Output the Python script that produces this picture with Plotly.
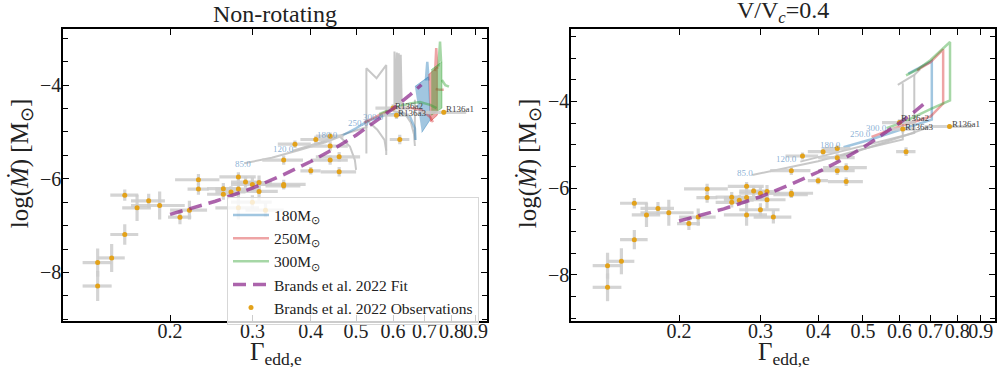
import numpy as np
import plotly.graph_objects as go

# ---------------- Observations (Brands et al. 2022) ----------------
obs_gamma = [0.14, 0.14, 0.15, 0.16, 0.16, 0.17, 0.18, 0.19, 0.21, 0.22, 0.23, 0.23,
             0.26, 0.26, 0.27, 0.28, 0.28, 0.28, 0.29, 0.30, 0.30, 0.31, 0.31, 0.32,
             0.35, 0.35, 0.35, 0.37, 0.40, 0.41, 0.44, 0.44, 0.44, 0.46, 0.46,
             0.60, 0.61, 0.62, 0.77]
obs_mdot = [-7.79, -8.29, -7.69, -7.19, -6.35, -6.62, -6.47, -6.57, -6.82, -6.67, -6.02, -6.22,
            -6.21, -6.33, -6.28, -5.96, -6.22, -6.62, -6.07, -6.12, -6.50, -6.08, -6.27, -6.67,
            -5.60, -6.12, -6.15, -5.26, -5.83, -5.16, -5.09, -5.30, -5.60, -5.53, -5.85,
            -4.49, -4.64, -5.16, -4.58]
obs_gamma_err = [0.010, 0.010, 0.010, 0.011, 0.011, 0.012, 0.015, 0.025, 0.012, 0.020, 0.025, 0.012,
                 0.020, 0.020, 0.020, 0.025, 0.030, 0.030, 0.020, 0.030, 0.030, 0.020, 0.030, 0.030,
                 0.035, 0.040, 0.030, 0.030, 0.020, 0.030, 0.030, 0.040, 0.040, 0.050, 0.040,
                 0.050, 0.040, 0.030, 0.090]
obs_mdot_err = [0.30, 0.32, 0.30, 0.22, 0.12, 0.28, 0.15, 0.30, 0.15, 0.20, 0.12, 0.12,
                0.12, 0.12, 0.12, 0.10, 0.15, 0.25, 0.12, 0.15, 0.15, 0.15, 0.20, 0.15,
                0.10, 0.10, 0.08, 0.08, 0.08, 0.08, 0.08, 0.10, 0.10, 0.10, 0.10,
                0.08, 0.08, 0.10, 0.05]

# ---------------- Brands et al. 2022 fit ----------------
fit_gamma = [0.20, 0.25, 0.30, 0.35, 0.40, 0.45, 0.50, 0.55, 0.60, 0.65, 0.69]
fit_mdot = [-6.76, -6.48, -6.20, -5.91, -5.63, -5.35, -5.07, -4.78, -4.50, -4.22, -3.99]

# ---------------- Non-rotating tracks ----------------
nr_gray_tracks = [
    ([0.288, 0.33, 0.38, 0.43, 0.462, 0.485, 0.497, 0.50],
     [-5.67, -5.55, -5.38, -5.22, -5.10, -5.31, -5.60, -5.81]),
    ([0.366, 0.42, 0.47, 0.51, 0.526, 0.526, 0.553, 0.58, 0.58],
     [-5.40, -5.22, -5.05, -4.95, -4.90, -3.64, -3.85, -3.57, -5.49]),
    ([0.526, 0.526, 0.555, 0.575, 0.58],
     [-5.46, -4.74, -4.95, -5.17, -5.40]),
    ([0.56, 0.59, 0.604, 0.604, 0.608, 0.611, 0.614, 0.617, 0.620, 0.623, 0.626],
     [-4.72, -4.55, -4.46, -3.28, -4.40, -3.30, -4.40, -3.32, -4.40, -3.35, -4.45]),
    ([0.60, 0.635, 0.655, 0.665, 0.668],
     [-4.55, -4.60, -4.80, -5.05, -5.30]),
    ([0.668, 0.668], [-4.31, -5.17]),
]
nr_blue_line = ([0.466, 0.50, 0.527, 0.572, 0.621, 0.652, 0.668, 0.670],
                [-5.08, -4.92, -4.78, -4.64, -4.60, -4.67, -4.92, -5.17])
nr_blue_band = ([0.668, 0.714, 0.72, 0.691], [-4.03, -3.82, -4.74, -5.01])
nr_blue_spike = ([0.705, 0.71, 0.715], [-3.90, -3.50, -3.90])
nr_red_line = ([0.52, 0.56, 0.607, 0.656, 0.69, 0.72, 0.73],
               [-4.80, -4.64, -4.49, -4.49, -4.53, -4.68, -4.79])
nr_red_band = ([0.714, 0.746, 0.746, 0.72], [-3.78, -3.60, -4.64, -4.78])
nr_red_spike = ([0.738, 0.742, 0.746], [-3.70, -3.21, -3.65])
nr_red_tail = ([0.74, 0.755, 0.77], [-4.08, -4.10, -4.10])
nr_green_line = ([0.56, 0.60, 0.611, 0.652, 0.685, 0.72, 0.743],
                 [-4.62, -4.50, -4.46, -4.39, -4.36, -4.42, -4.49])
nr_green_band = ([0.724, 0.763, 0.763, 0.724], [-3.67, -3.50, -4.49, -4.64])
nr_green_spike = ([0.75, 0.756, 0.76], [-3.60, -3.07, -3.50])
nr_green_tail = ([0.763, 0.776, 0.79], [-3.89, -4.00, -4.03])

# ---------------- V/Vc = 0.4 tracks ----------------
vc_gray_tracks = [
    ([0.288, 0.40, 0.50, 0.61, 0.61], [-5.70, -5.38, -5.10, -4.88, -3.58]),
    ([0.366, 0.45, 0.55, 0.646, 0.646], [-5.39, -5.15, -4.92, -4.73, -3.39]),
    ([0.595, 0.61, 0.646, 0.665], [-3.62, -3.55, -3.39, -3.26]),
    ([0.44, 0.55, 0.62, 0.70], [-5.30, -4.97, -4.78, -4.58]),
]
vc_blue = ([0.454, 0.52, 0.60, 0.705, 0.705, 0.665, 0.627],
           [-5.06, -4.88, -4.66, -4.42, -3.07, -3.22, -3.36])
vc_red = ([0.522, 0.60, 0.70, 0.746, 0.746, 0.70, 0.655],
          [-4.82, -4.58, -4.35, -4.05, -2.80, -3.10, -3.28])
vc_green = ([0.563, 0.62, 0.70, 0.772, 0.772, 0.70, 0.66, 0.62],
            [-4.62, -4.45, -4.18, -3.98, -2.63, -3.05, -3.25, -3.40])

# ---------------- Labels ----------------
mass_labels = ["85.0", "120.0", "180.0", "250.0", "300.0"]
nr_mass_label_pos = ([0.286, 0.35, 0.435, 0.505, 0.545], [-5.69, -5.36, -5.06, -4.81, -4.67])
vc_mass_label_pos = ([0.278, 0.341, 0.425, 0.4945, 0.536], [-5.65, -5.33, -5.01, -4.75, -4.61])
star_labels = ["R136a2", "R136a3", "R136a1"]
nr_star_label_pos = ([0.60, 0.61, 0.77], [-4.44, -4.60, -4.51])
vc_star_label_pos = ([0.60, 0.61, 0.77], [-4.39, -4.59, -4.53])

x_tick_vals = [0.2, 0.3, 0.4, 0.5, 0.6, 0.7, 0.8, 0.9]
x_tick_text = ["0.2", "0.3", "0.4", "0.5", "0.6", "0.7", "0.8", "0.9"]
y_tick_vals = [-8, -6, -4]
panel_titles = ["Non-rotating", "V/V<sub><i>c</i></sub>=0.4"]
x_title = "Γ<sub>edd,e</sub>"
y_title = "log(<i>Ṁ</i>) [M<sub>⊙</sub>]"

# ---------------- Styles ----------------
GRAY = "rgba(190,190,190,0.85)"
BLUE = "rgba(31,119,180,0.42)"
RED = "rgba(214,39,40,0.42)"
GREEN = "rgba(44,160,44,0.42)"
PURPLE = "rgba(140,40,140,0.72)"
ORANGE = "#e3a21a"
FONT = "Liberation Serif"
TXT = "#222222"

fig = go.Figure()


def add_line(g, m, color, xa, ya, width=2.0, name=None, legend=False, rank=100):
    fig.add_trace(go.Scatter(x=g, y=m, mode="lines", line=dict(color=color, width=width),
                             xaxis=xa, yaxis=ya, showlegend=legend, name=name,
                             legendrank=rank, hoverinfo="skip"))


def add_band(g, m, color, xa, ya):
    fig.add_trace(go.Scatter(x=g, y=m, mode="lines", fill="toself", fillcolor=color,
                             line=dict(color=color, width=1), xaxis=xa, yaxis=ya,
                             showlegend=False, hoverinfo="skip"))


# Left panel
for g, m in nr_gray_tracks:
    add_line(g, m, GRAY, "x", "y")
add_line(*nr_blue_line, BLUE, "x", "y", width=2.5, name="180M<sub>⊙</sub>", legend=True, rank=1)
add_band(*nr_blue_band, BLUE, "x", "y")
add_line(*nr_blue_spike, BLUE, "x", "y", width=2.5)
add_line(*nr_red_line, RED, "x", "y", width=2.5, name="250M<sub>⊙</sub>", legend=True, rank=2)
add_band(*nr_red_band, RED, "x", "y")
add_line(*nr_red_spike, RED, "x", "y", width=2.5)
add_line(*nr_red_tail, RED, "x", "y", width=2.5)
add_line(*nr_green_line, GREEN, "x", "y", width=2.5, name="300M<sub>⊙</sub>", legend=True, rank=3)
add_band(*nr_green_band, GREEN, "x", "y")
add_line(*nr_green_spike, GREEN, "x", "y", width=2.5)
add_line(*nr_green_tail, GREEN, "x", "y", width=2.5)

# Right panel
for g, m in vc_gray_tracks:
    add_line(g, m, GRAY, "x2", "y2")
add_line(*vc_blue, BLUE, "x2", "y2", width=2.5)
add_line(*vc_red, RED, "x2", "y2", width=2.5)
add_line(*vc_green, GREEN, "x2", "y2", width=2.5)

# Observations and fit on both panels
for xa, ya, leg in (("x", "y", True), ("x2", "y2", False)):
    fig.add_trace(go.Scatter(
        x=obs_gamma, y=obs_mdot, mode="markers",
        marker=dict(color=ORANGE, size=5),
        error_x=dict(type="data", array=obs_gamma_err, color="rgba(205,205,205,0.85)",
                     thickness=3.2, width=0),
        error_y=dict(type="data", array=obs_mdot_err, color="rgba(205,205,205,0.85)",
                     thickness=3.2, width=0),
        xaxis=xa, yaxis=ya, showlegend=leg, name="Brands et al. 2022 Observations",
        legendrank=5, hoverinfo="skip"))
    fig.add_trace(go.Scatter(
        x=fit_gamma, y=fit_mdot, mode="lines",
        line=dict(color=PURPLE, width=3.5, dash="13px,7px"),
        xaxis=xa, yaxis=ya, showlegend=leg, name="Brands et al. 2022 Fit",
        legendrank=4, hoverinfo="skip"))

annotations = []
for (xs, ys), xa, ya in ((nr_mass_label_pos, "x", "y"), (vc_mass_label_pos, "x2", "y2")):
    for t, gx, my in zip(mass_labels, xs, ys):
        annotations.append(dict(x=np.log10(gx), y=my, xref=xa, yref=ya, text=t, showarrow=False,
                                xanchor="center", yanchor="middle",
                                font=dict(family=FONT, size=9, color="rgba(100,150,200,0.75)")))
for (xs, ys), xa, ya in ((nr_star_label_pos, "x", "y"), (vc_star_label_pos, "x2", "y2")):
    for t, gx, my in zip(star_labels, xs, ys):
        annotations.append(dict(x=np.log10(gx), y=my, xref=xa, yref=ya, text=t, showarrow=False,
                                xanchor="left", yanchor="middle",
                                font=dict(family=FONT, size=9, color="#444444")))

# panel titles and axis titles
for t, xc in zip(panel_titles, [0.275, 0.783]):
    annotations.append(dict(x=xc, y=0.922, xref="paper", yref="paper", text=t, showarrow=False,
                            xanchor="center", yanchor="bottom", font=dict(family=FONT, size=24, color=TXT)))
for xc in [0.276, 0.784]:
    annotations.append(dict(x=xc, y=0.0, xref="paper", yref="paper", text=x_title, showarrow=False,
                            xanchor="center", yanchor="bottom", yshift=-4,
                            font=dict(family=FONT, size=25, color=TXT)))
for xc in [0.021, 0.529]:
    annotations.append(dict(x=xc, y=0.555, xref="paper", yref="paper", text=y_title, showarrow=False,
                            textangle=-90, xanchor="center", yanchor="middle",
                            font=dict(family=FONT, size=25, color=TXT)))


def xaxis(domain, anchor, rng):
    return dict(domain=domain, anchor=anchor, type="log", range=rng,
                tickvals=x_tick_vals, ticktext=x_tick_text, tickangle=0,
                ticks="inside", ticklen=6, tickwidth=1, tickcolor="black",
                ticklabelstandoff=-9,
                showline=True, linecolor="black", linewidth=1.5, mirror="allticks",
                showgrid=False, zeroline=False,
                tickfont=dict(family=FONT, size=20, color=TXT),
                automargin=False)


def yaxis(domain, anchor, rng):
    return dict(domain=domain, anchor=anchor, range=rng,
                tickvals=y_tick_vals, ticks="inside", ticklen=6, tickwidth=1, tickcolor="black",
                ticklabelstandoff=-4,
                minor=dict(dtick=0.5, tick0=0, ticks="inside", ticklen=5, tickcolor="black", showgrid=False),
                showline=True, linecolor="black", linewidth=1.5, mirror="allticks",
                showgrid=False, zeroline=False,
                tickfont=dict(family=FONT, size=20, color=TXT),
                automargin=False)


fig.update_layout(
    width=1000, height=367,
    margin=dict(l=0, r=0, t=0, b=0, autoexpand=False),
    paper_bgcolor="white", plot_bgcolor="white",
    xaxis=xaxis([0.063, 0.487], "y", [-0.928, -0.021]),
    yaxis=yaxis([0.125, 0.921], "x", [-9.04, -2.80]),
    xaxis2=xaxis([0.571, 0.995], "y2", [-0.933, -0.015]),
    yaxis2=yaxis([0.125, 0.921], "x2", [-9.07, -2.33]),
    annotations=annotations,
    legend=dict(x=0.227, y=0.462, xanchor="left", yanchor="top",
                bgcolor="rgba(255,255,255,0.8)", bordercolor="rgba(215,215,215,1)", borderwidth=1,
                font=dict(family=FONT, size=15.5, color=TXT), tracegroupgap=0,
                itemwidth=36),
    showlegend=True,
)

fig.write_html("out.html", config={"displayModeBar": False},
               post_script="document.body.style.margin='0';document.body.style.overflow='hidden';")
